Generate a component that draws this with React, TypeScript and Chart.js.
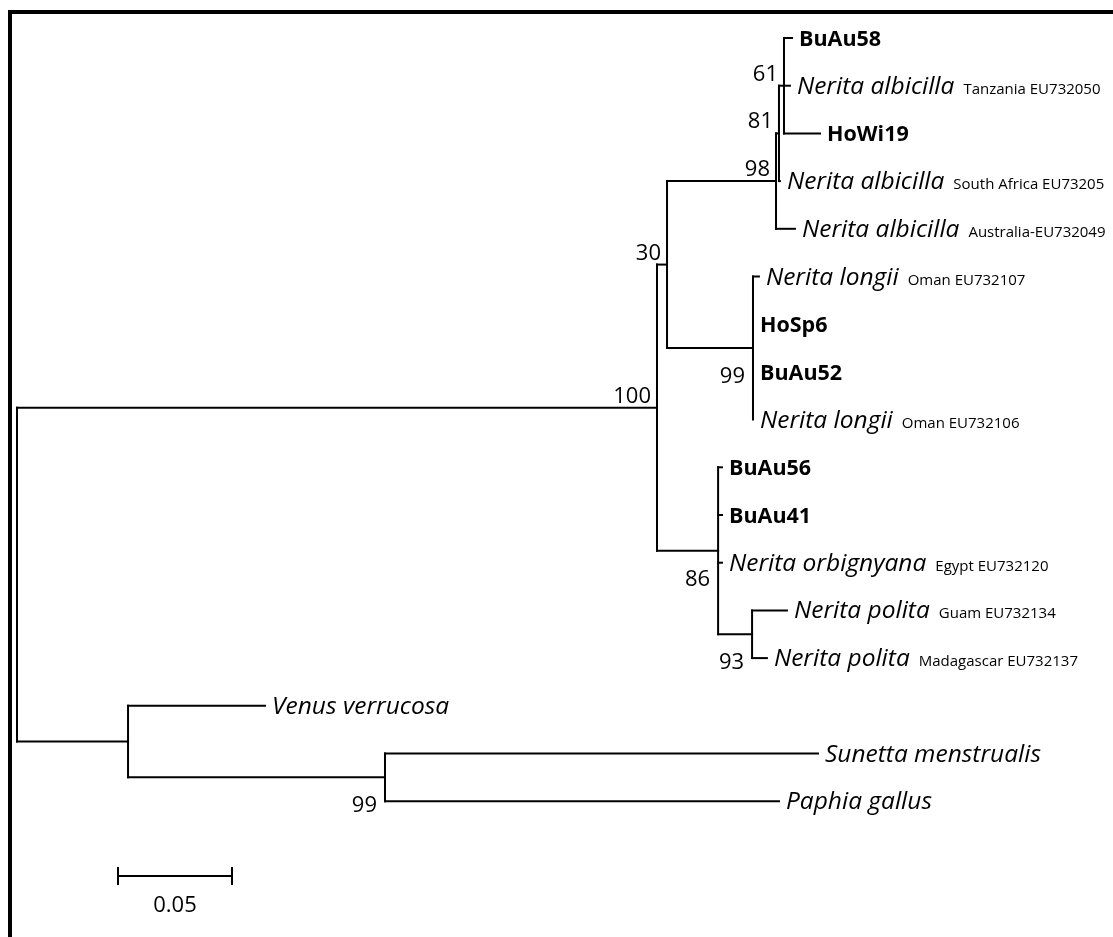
import React, { useEffect, useRef } from 'react';
import { Chart, registerables } from 'chart.js';
Chart.register(...registerables);

// ---- Leaves (top to bottom) ----
const leafNames = [
  'BuAu58', 'Nerita albicilla', 'HoWi19', 'Nerita albicilla', 'Nerita albicilla',
  'Nerita longii', 'HoSp6', 'BuAu52', 'Nerita longii', 'BuAu56', 'BuAu41',
  'Nerita orbignyana', 'Nerita polita', 'Nerita polita', 'Venus verrucosa',
  'Sunetta menstrualis', 'Paphia gallus',
];
const leafNotes = [
  '', 'Tanzania EU732050', '', 'South Africa EU73205', 'Australia-EU732049',
  'Oman EU732107', '', '', 'Oman EU732106', '', '', 'Egypt EU732120',
  'Guam EU732134', 'Madagascar EU732137', '', '', '',
];
const leafIsIsolate = [
  true, false, true, false, false, false, true, true, false, true, true,
  false, false, false, false, false, false,
];
const leafParent = [
  'n61', 'n61', 'n61', 'n81', 'n98', 'n99a', 'n99a', 'n99a', 'n99a',
  'n86', 'n86', 'n86', 'n93', 'n93', 'nOut', 'n99b', 'n99b',
];
// cumulative distance from root (substitutions/site)
const leafDepth = [
  0.3399, 0.3390, 0.3522, 0.3346, 0.3412, 0.3254, 0.3228, 0.3228, 0.3228,
  0.3092, 0.3092, 0.3092, 0.3377, 0.3289, 0.1088, 0.3513, 0.3342,
];

// ---- Internal nodes ----
const nodeIds = ['root', 'n100', 'n30', 'n98', 'n81', 'n61', 'n99a', 'n86', 'n93', 'nOut', 'n99b'];
const nodeParent = ['', 'root', 'n100', 'n30', 'n98', 'n81', 'n30', 'n100', 'n86', 'root', 'nOut'];
const nodeDepth = [0, 0.2807, 0.2851, 0.3329, 0.3342, 0.3364, 0.3228, 0.3075, 0.3224, 0.0487, 0.1614];
const nodeSupport = ['', '100', '30', '98', '81', '61', '99', '86', '93', '', '99'];

// ---- Scale bar ----
const scaleBarLength = 0.05;
const scaleBarLabel = '0.05';

// ---- layout constants (pixels -> data mapping) ----
const W = 1113;
const H = 937;
const PX_PER_UNIT = 2280;
const ROOT_PX = 17;
const ROW_PX = 47.7;
const FIRST_ROW_PX = 38;
const X_MIN = -ROOT_PX / PX_PER_UNIT;
const X_MAX = (W - ROOT_PX) / PX_PER_UNIT;
const Y_MIN = -FIRST_ROW_PX / ROW_PX;
const Y_MAX = (H - FIRST_ROW_PX) / ROW_PX;
const SCALE_ROW = (876 - FIRST_ROW_PX) / ROW_PX;
const SCALE_X0 = (118 - ROOT_PX) / PX_PER_UNIT;

const FONT = '"Open Sans", Lato, sans-serif';
const belowLabels = new Set(['n99a', 'n86', 'n93', 'n99b']);

function buildTree() {
  const depth: Record<string, number> = {};
  const children: Record<string, { id: string; leaf: number }[]> = {};
  nodeIds.forEach((id, i) => {
    depth[id] = nodeDepth[i];
    children[id] = [];
  });
  leafParent.forEach((p, i) => children[p].push({ id: 'leaf' + i, leaf: i }));
  nodeIds.forEach((id, i) => {
    if (nodeParent[i]) children[nodeParent[i]].push({ id, leaf: -1 });
  });
  const yOf: Record<string, number> = {};
  const span: Record<string, [number, number]> = {};
  const calc = (id: string): number => {
    if (yOf[id] !== undefined) return yOf[id];
    const ys = children[id].map((c) => (c.leaf >= 0 ? c.leaf : calc(c.id)));
    const lo = Math.min(...ys);
    const hi = Math.max(...ys);
    span[id] = [lo, hi];
    yOf[id] = (lo + hi) / 2;
    return yOf[id];
  };
  nodeIds.forEach((id) => calc(id));
  return { depth, yOf, span };
}

export default function App() {
  const ref = useRef<HTMLCanvasElement | null>(null);
  useEffect(() => {
    document.body.style.margin = '0';
    const canvas = ref.current;
    if (!canvas) return;
    const { depth, yOf, span } = buildTree();

    const segs: { x: number; y: number }[][] = [];
    nodeIds.forEach((id) => {
      const [lo, hi] = span[id];
      segs.push([{ x: depth[id], y: lo }, { x: depth[id], y: hi }]);
    });
    nodeIds.forEach((id, i) => {
      const p = nodeParent[i];
      if (!p) return;
      segs.push([{ x: depth[p], y: yOf[id] }, { x: depth[id], y: yOf[id] }]);
    });
    leafParent.forEach((p, i) => {
      if (leafDepth[i] - depth[p] < 1e-6) return;
      segs.push([{ x: depth[p], y: i }, { x: leafDepth[i], y: i }]);
    });
    const tick = 0.17;
    segs.push([{ x: SCALE_X0, y: SCALE_ROW }, { x: SCALE_X0 + scaleBarLength, y: SCALE_ROW }]);
    segs.push([{ x: SCALE_X0, y: SCALE_ROW - tick }, { x: SCALE_X0, y: SCALE_ROW + tick }]);
    segs.push([
      { x: SCALE_X0 + scaleBarLength, y: SCALE_ROW - tick },
      { x: SCALE_X0 + scaleBarLength, y: SCALE_ROW + tick },
    ]);

    const datasets = segs.map((d) => ({
      data: d,
      showLine: true,
      borderColor: '#000',
      borderWidth: 2,
      borderCapStyle: 'square' as const,
      pointRadius: 0,
      clip: false as any,
    }));

    const textPlugin = {
      id: 'treeText',
      beforeDraw(chart: any) {
        const c = chart.ctx;
        c.save();
        c.fillStyle = '#fff';
        c.fillRect(0, 0, chart.width, chart.height);
        c.restore();
      },
      afterDatasetsDraw(chart: any) {
        const c = chart.ctx as CanvasRenderingContext2D;
        const xs = chart.scales.x;
        const ys = chart.scales.y;
        c.save();
        c.fillStyle = '#000';
        // frame
        c.fillRect(8, 10, W - 8, 4);
        c.fillRect(8, 10, 4, H - 10);
        // leaf labels
        c.textBaseline = 'alphabetic';
        c.textAlign = 'left';
        leafNames.forEach((name, i) => {
          const px = xs.getPixelForValue(leafDepth[i]) + 7;
          const py = ys.getPixelForValue(i) + 8;
          if (leafIsIsolate[i]) {
            c.font = `bold 21.5px ${FONT}`;
            c.fillText(name, px, py);
          } else {
            c.font = `italic 24.5px ${FONT}`;
            c.fillText(name, px, py);
            const w = c.measureText(name).width;
            if (leafNotes[i]) {
              c.font = `15px ${FONT}`;
              c.fillText(leafNotes[i], px + w + 9, py);
            }
          }
        });
        // support values
        c.font = `22px ${FONT}`;
        c.textAlign = 'right';
        nodeIds.forEach((id, i) => {
          const s = nodeSupport[i];
          if (!s) return;
          const px = xs.getPixelForValue(depth[id]);
          const py = ys.getPixelForValue(yOf[id]);
          if (belowLabels.has(id)) c.fillText(s, px - 8, py + 35);
          else c.fillText(s, px - 6, py - 5);
        });
        // scale label
        c.textAlign = 'center';
        c.fillText(
          scaleBarLabel,
          xs.getPixelForValue(SCALE_X0 + scaleBarLength / 2),
          ys.getPixelForValue(SCALE_ROW) + 36
        );
        c.restore();
      },
    };

    const chart = new Chart(canvas, {
      type: 'scatter',
      data: { datasets },
      options: {
        animation: false,
        responsive: false,
        devicePixelRatio: 1,
        events: [],
        layout: { padding: 0 },
        plugins: { legend: { display: false }, tooltip: { enabled: false } },
        scales: {
          x: { type: 'linear', min: X_MIN, max: X_MAX, display: false },
          y: { type: 'linear', min: Y_MIN, max: Y_MAX, reverse: true, display: false },
        },
      },
      plugins: [textPlugin],
    });
    return () => chart.destroy();
  }, []);

  return (
    <div style={{ width: W, height: H, position: 'relative', overflow: 'hidden' }}>
      <canvas ref={ref} width={W} height={H} style={{ display: 'block' }} />
    </div>
  );
}
